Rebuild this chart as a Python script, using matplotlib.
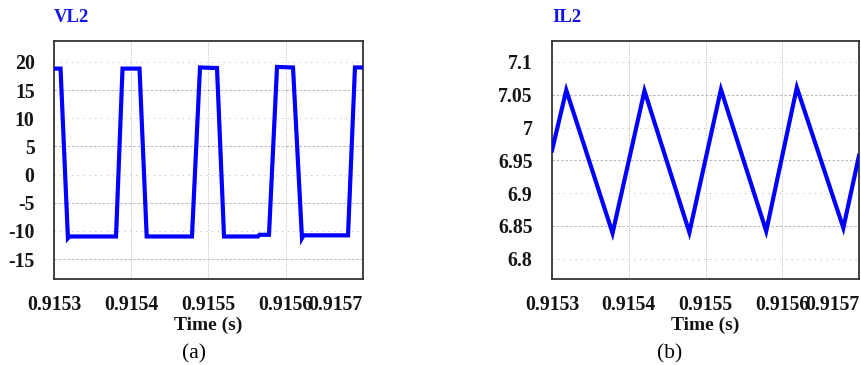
import matplotlib
matplotlib.use("Agg")
import matplotlib.pyplot as plt

# ---------------- data ----------------
x_ticks = [0.9153, 0.9154, 0.9155, 0.9156, 0.9157]
x_tick_labels = ["0.9153", "0.9154", "0.9155", "0.9156", "0.9157"]

vl2_t = [0.915300, 0.9153085, 0.915318, 0.915320, 0.9153803, 0.9153887,
         0.9154107, 0.9154200, 0.9154786, 0.9154890, 0.9155110, 0.9155201,
         0.915564, 0.915566, 0.9155783, 0.9155887, 0.9156094, 0.9156210,
         0.915623, 0.9156806, 0.9156896, 0.915700]
vl2_v = [18.8, 18.8, -11.3, -11.0, -11.0, 18.8,
         18.8, -11.0, -11.0, 19.0, 18.9, -11.0,
         -11.0, -10.7, -10.7, 19.1, 19.0, -11.3,
         -10.8, -10.8, 19.0, 19.0]
vl2_yticks = [20, 15, 10, 5, 0, -5, -10, -15]
vl2_ytick_labels = ["20", "15", "10", "5", "0", "-5", "-10", "-15"]

il2_t = [0.915300, 0.9153186, 0.9153789, 0.9154205, 0.9154790,
         0.9155201, 0.9155791, 0.9156190, 0.9156796, 0.915700]
il2_v = [6.965, 7.057, 6.839, 7.056, 6.840,
         7.058, 6.842, 7.061, 6.847, 6.957]
il2_yticks = [7.1, 7.05, 7.0, 6.95, 6.9, 6.85, 6.8]
il2_ytick_labels = ["7.1", "7.05", "7", "6.95", "6.9", "6.85", "6.8"]

titles = ["VL2", "IL2"]
xlabel = "Time (s)"
captions = ["(a)", "(b)"]

# ---------------- style ----------------
SERIF = ["Liberation Serif", "DejaVu Serif"]
LINE_BLUE = "#0000FF"
TITLE_BLUE = "#1414E6"
TXT = "#141414"
GRID = "#b4b4b4"

W, H = 861, 365
fig = plt.figure(figsize=(W / 100, H / 100), dpi=100)

def px_axes(x0, x1, y0, y1):
    return fig.add_axes([x0 / W, (H - y1) / H, (x1 - x0) / W, (y1 - y0) / H])

ax1 = px_axes(54, 363, 41, 279)
ax2 = px_axes(552, 859, 41, 279)

panels = [
    (ax1, vl2_t, vl2_v, vl2_yticks, vl2_ytick_labels, (-18.55, 23.7)),
    (ax2, il2_t, il2_v, il2_yticks, il2_ytick_labels, (6.769, 7.132)),
]

for i, (ax, t, v, yt, ytl, ylim) in enumerate(panels):
    ax.plot(t, v, color=LINE_BLUE, lw=3.0, solid_joinstyle="miter", zorder=3)
    ax.set_xlim(x_ticks[0], x_ticks[-1])
    ax.set_ylim(*ylim)
    ax.set_xticks(x_ticks)
    ax.set_xticklabels(x_tick_labels)
    ax.set_yticks(yt)
    ax.set_yticklabels(ytl)
    ax.tick_params(length=0, labelsize=14.2, labelcolor=TXT)
    ax.tick_params(axis="x", pad=11.5)
    ax.tick_params(axis="y", pad=14)
    for lab in ax.get_xticklabels() + ax.get_yticklabels():
        lab.set_fontfamily(SERIF)
        lab.set_fontweight("bold")
    ax.get_xticklabels()[-1].set_horizontalalignment("right")
    for sp in ax.spines.values():
        sp.set_color("#333333")
        sp.set_linewidth(1.3)
    # grid
    for k, y in enumerate(yt):
        style = (0, (1, 5)) if k % 2 == 0 else (0, (2.5, 2))
        ax.axhline(y, color=GRID, lw=0.7, ls=style, zorder=1)
    for x in x_ticks[1:-1]:
        ax.axvline(x, color=GRID, lw=0.7, ls=(0, (1, 1.5)), zorder=1)

# titles, axis labels, captions
fig.text(54 / W, (H - 18) / H, titles[0], color=TITLE_BLUE, fontsize=13.5,
         fontweight="bold", family=SERIF, ha="left", va="center")
fig.text(552 / W, (H - 18) / H, titles[1], color=TITLE_BLUE, fontsize=13.5,
         fontweight="bold", family=SERIF, ha="left", va="center")
fig.text(208.5 / W, (H - 325) / H, xlabel, color=TXT, fontsize=14,
         fontweight="bold", family=SERIF, ha="center", va="center")
fig.text(705.5 / W, (H - 325) / H, xlabel, color=TXT, fontsize=14,
         fontweight="bold", family=SERIF, ha="center", va="center")
fig.text(194 / W, (H - 354) / H, captions[0], color="black", fontsize=15.5,
         family=SERIF, ha="center", va="center")
fig.text(670 / W, (H - 354) / H, captions[1], color="black", fontsize=15.5,
         family=SERIF, ha="center", va="center")

fig.savefig("out.png", dpi=100, facecolor="white")
